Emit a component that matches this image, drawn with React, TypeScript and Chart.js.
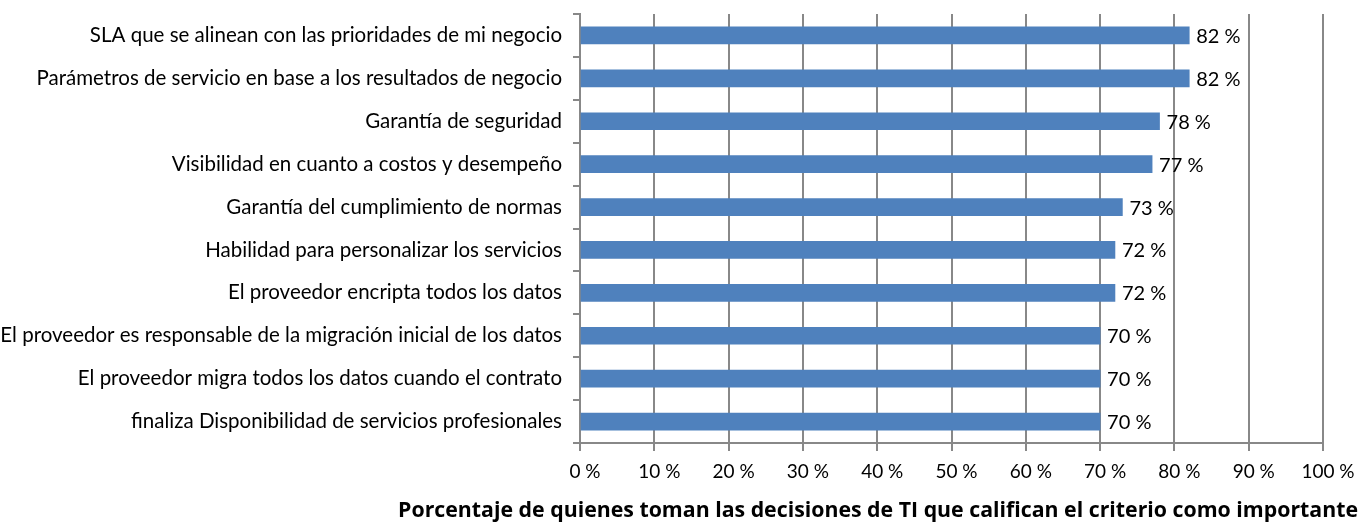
import React, { useEffect, useRef } from "react";
import { Chart, registerables } from "chart.js";

Chart.register(...registerables);

const categories: string[] = [
  "SLA que se alinean con las prioridades de mi negocio",
  "Parámetros de servicio en base a los resultados de negocio",
  "Garantía de seguridad",
  "Visibilidad en cuanto a costos y desempeño",
  "Garantía del cumplimiento de normas",
  "Habilidad para personalizar los servicios",
  "El proveedor encripta todos los datos",
  "El proveedor es responsable de la migración inicial de los datos",
  "El proveedor migra todos los datos cuando el contrato",
  "finaliza Disponibilidad de servicios profesionales",
];

const values: number[] = [82, 82, 78, 77, 73, 72, 72, 70, 70, 70];

const axisTitle =
  "Porcentaje de quienes toman las decisiones de TI que califican el criterio como importante";

const FONT = "Lato, 'Noto Sans', sans-serif";
const TITLE_FONT = "'Open Sans', Lato, sans-serif";
const GRID = "#888888";
const BAR = "#4f81bd";

const valueLabels = {
  id: "valueLabels",
  afterDatasetsDraw(chart: any) {
    const ctx = chart.ctx;
    const meta = chart.getDatasetMeta(0);
    ctx.save();
    ctx.font = `20px ${FONT}`;
    ctx.fillStyle = "#000";
    ctx.textAlign = "left";
    ctx.textBaseline = "middle";
    meta.data.forEach((el: any, i: number) => {
      ctx.fillText(`${values[i]} %`, el.x + 7, el.y + 1);
    });
    ctx.restore();
  },
};

const bottomTitle = {
  id: "bottomTitle",
  afterDraw(chart: any) {
    const ctx = chart.ctx;
    ctx.save();
    ctx.font = `bold 21.3px ${TITLE_FONT}`;
    ctx.fillStyle = "#000";
    ctx.textAlign = "right";
    ctx.textBaseline = "alphabetic";
    ctx.fillText(axisTitle, chart.width - 10, chart.height - 6);
    ctx.restore();
  },
};

export default function App() {
  const ref = useRef<HTMLCanvasElement | null>(null);
  useEffect(() => {
    if (!ref.current) return;
    const chart = new Chart(ref.current, {
      type: "bar",
      data: {
        labels: categories,
        datasets: [
          {
            data: values,
            backgroundColor: BAR,
            borderWidth: 0,
            barThickness: 17,
          },
        ],
      },
      options: {
        indexAxis: "y",
        animation: false,
        responsive: true,
        maintainAspectRatio: false,
        layout: { padding: { top: 14, right: 45, bottom: 30, left: 0 } },
        plugins: {
          legend: { display: false },
          tooltip: { enabled: false },
          title: { display: false },
        },
        scales: {
          x: {
            min: 0,
            max: 100,
            ticks: {
              stepSize: 10,
              callback: (v: any) => `${v} %`,
              font: { family: FONT, size: 19 },
              color: "#000",
              padding: 9,
              maxRotation: 0,
              labelOffset: 5,
            },
            grid: {
              color: GRID,
              lineWidth: 2,
              tickLength: 8,
              drawOnChartArea: true,
            },
            border: { display: true, color: GRID, width: 2 },
            afterFit: (s: any) => {
              s.height = 50;
              s.paddingLeft = 0;
              s.paddingRight = 0;
            },
          },
          y: {
            ticks: {
              font: { family: FONT, size: 20.5 },
              color: "#000",
              padding: 11,
            },
            grid: {
              color: GRID,
              lineWidth: 2,
              tickLength: 7,
              drawOnChartArea: false,
              offset: true,
            },
            border: { display: true, color: GRID, width: 2 },
            afterFit: (s: any) => {
              s.width = 580;
              s.paddingTop = 0;
              s.paddingBottom = 0;
            },
          },
        },
      },
      plugins: [valueLabels, bottomTitle],
    });
    return () => chart.destroy();
  }, []);
  return (
    <div style={{ position: "absolute", left: 0, top: 0, width: 1368, height: 523 }}>
      <canvas ref={ref} />
    </div>
  );
}
